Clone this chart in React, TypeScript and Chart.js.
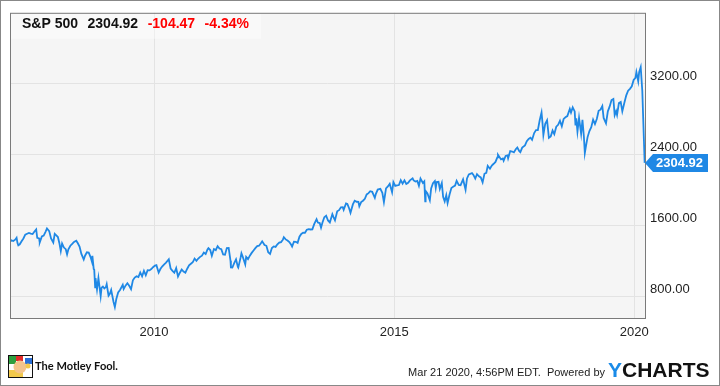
import React, { useEffect, useRef } from "react";
import { Chart, registerables } from "chart.js";

Chart.register(...registerables);

// ---- data ----
const dates: string[] = [
  "2007-01-03","2007-01-12","2007-01-26","2007-02-09","2007-02-20","2007-02-27","2007-03-05","2007-03-16","2007-03-30","2007-04-13","2007-04-27","2007-05-11","2007-05-25","2007-06-08","2007-06-22","2007-07-06","2007-07-19","2007-07-27","2007-08-10","2007-08-15","2007-08-31","2007-09-14","2007-09-28","2007-10-09","2007-10-26","2007-11-09","2007-11-26","2007-12-07","2007-12-21","2007-12-31",
  "2008-01-11","2008-01-22","2008-02-01","2008-02-15","2008-02-29","2008-03-10","2008-03-20","2008-04-04","2008-04-18","2008-05-02","2008-05-19","2008-05-30","2008-06-13","2008-06-27","2008-07-15","2008-07-25","2008-08-08","2008-08-22","2008-09-05","2008-09-15","2008-09-19","2008-09-29","2008-10-03","2008-10-10","2008-10-13","2008-10-24","2008-11-04","2008-11-21","2008-11-28","2008-12-08","2008-12-19","2008-12-31",
  "2009-01-06","2009-01-20","2009-01-30","2009-02-09","2009-02-27","2009-03-09","2009-03-20","2009-04-03","2009-04-17","2009-05-08","2009-05-15","2009-05-29","2009-06-12","2009-06-26","2009-07-10","2009-07-24","2009-08-07","2009-08-21","2009-09-04","2009-09-18","2009-10-02","2009-10-16","2009-10-30","2009-11-13","2009-11-27","2009-12-11","2009-12-24",
  "2010-01-08","2010-01-19","2010-02-05","2010-02-19","2010-03-05","2010-03-19","2010-04-02","2010-04-23","2010-05-07","2010-05-21","2010-06-04","2010-06-18","2010-07-02","2010-07-16","2010-07-30","2010-08-13","2010-08-27","2010-09-10","2010-09-24","2010-10-08","2010-10-22","2010-11-05","2010-11-19","2010-12-03","2010-12-17","2010-12-31",
  "2011-01-14","2011-01-28","2011-02-11","2011-02-18","2011-03-04","2011-03-16","2011-04-01","2011-04-15","2011-04-29","2011-05-13","2011-05-27","2011-06-10","2011-06-24","2011-07-08","2011-07-22","2011-08-05","2011-08-08","2011-08-19","2011-09-02","2011-09-16","2011-09-30","2011-10-03","2011-10-21","2011-10-27","2011-11-04","2011-11-25","2011-12-02","2011-12-16","2011-12-30",
  "2012-01-13","2012-01-27","2012-02-10","2012-02-24","2012-03-09","2012-03-23","2012-04-02","2012-04-20","2012-05-04","2012-05-18","2012-06-01","2012-06-15","2012-06-29","2012-07-13","2012-07-27","2012-08-10","2012-08-24","2012-09-07","2012-09-14","2012-09-28","2012-10-12","2012-10-26","2012-11-09","2012-11-16","2012-11-30","2012-12-14","2012-12-28",
  "2013-01-11","2013-01-25","2013-02-08","2013-02-22","2013-03-08","2013-03-22","2013-04-05","2013-04-19","2013-05-03","2013-05-21","2013-05-31","2013-06-14","2013-06-24","2013-07-05","2013-07-19","2013-08-02","2013-08-16","2013-08-30","2013-09-18","2013-09-27","2013-10-08","2013-10-25","2013-11-08","2013-11-22","2013-12-06","2013-12-13","2013-12-31",
  "2014-01-10","2014-01-24","2014-02-03","2014-02-21","2014-03-07","2014-03-21","2014-04-04","2014-04-11","2014-04-25","2014-05-09","2014-05-23","2014-06-06","2014-06-20","2014-07-03","2014-07-18","2014-08-07","2014-08-15","2014-08-29","2014-09-18","2014-10-03","2014-10-15","2014-10-31","2014-11-14","2014-11-28","2014-12-16","2014-12-26",
  "2015-01-09","2015-01-23","2015-02-06","2015-02-20","2015-03-06","2015-03-20","2015-04-03","2015-04-17","2015-05-01","2015-05-21","2015-05-29","2015-06-12","2015-06-26","2015-07-08","2015-07-20","2015-08-07","2015-08-18","2015-08-25","2015-08-28","2015-09-11","2015-09-29","2015-10-09","2015-10-23","2015-11-06","2015-11-13","2015-11-20","2015-12-04","2015-12-14","2015-12-29",
  "2016-01-08","2016-01-20","2016-02-01","2016-02-11","2016-02-26","2016-03-11","2016-03-24","2016-04-08","2016-04-20","2016-05-06","2016-05-20","2016-06-08","2016-06-27","2016-07-08","2016-07-22","2016-08-15","2016-08-26","2016-09-09","2016-09-22","2016-10-07","2016-10-21","2016-11-04","2016-11-18","2016-12-02","2016-12-13","2016-12-30",
  "2017-01-13","2017-01-27","2017-02-10","2017-02-24","2017-03-01","2017-03-24","2017-04-07","2017-04-13","2017-04-28","2017-05-12","2017-05-17","2017-06-02","2017-06-16","2017-06-30","2017-07-14","2017-07-26","2017-08-10","2017-08-18","2017-09-01","2017-09-22","2017-10-06","2017-10-20","2017-11-03","2017-11-15","2017-12-01","2017-12-15","2017-12-29",
  "2018-01-12","2018-01-26","2018-02-02","2018-02-09","2018-02-23","2018-03-09","2018-03-23","2018-04-06","2018-04-20","2018-05-03","2018-05-18","2018-06-01","2018-06-15","2018-06-29","2018-07-13","2018-07-27","2018-08-10","2018-08-29","2018-09-07","2018-09-20","2018-10-05","2018-10-11","2018-10-17","2018-10-26","2018-11-07","2018-11-23","2018-12-03","2018-12-14","2018-12-21","2018-12-31",
  "2019-01-11","2019-01-25","2019-02-08","2019-02-22","2019-03-08","2019-03-22","2019-04-05","2019-04-19","2019-05-03","2019-05-13","2019-05-31","2019-06-14","2019-06-28","2019-07-12","2019-07-26","2019-08-05","2019-08-16","2019-08-23","2019-09-06","2019-09-20","2019-10-02","2019-10-18","2019-11-01","2019-11-15","2019-11-29","2019-12-13","2019-12-27",
  "2020-01-10","2020-01-17","2020-01-31","2020-02-07","2020-02-19","2020-03-02","2020-03-20"
];

const closes: number[] = [
  1417,1430,1423,1438,1460,1399,1374,1386,1421,1452,1494,1505,1515,1507,1502,1530,1553,1459,1453,1406,1474,1484,1527,1565,1535,1453,1407,1504,1484,1468,
  1401,1310,1395,1349,1331,1273,1330,1370,1390,1413,1426,1400,1360,1278,1215,1257,1296,1292,1242,1192,1255,1106,1099,899,1003,877,1005,800,896,909,887,903,
  935,805,826,870,735,677,768,843,870,929,882,919,946,918,880,979,1010,1026,1016,1068,1025,1087,1036,1093,1091,1106,1127,
  1145,1150,1066,1109,1138,1160,1179,1217,1111,1087,1065,1117,1022,1065,1102,1079,1065,1110,1148,1166,1183,1225,1199,1225,1244,1258,
  1293,1276,1329,1343,1321,1257,1332,1320,1364,1338,1331,1271,1268,1344,1345,1199,1125,1124,1174,1216,1131,1123,1238,1285,1253,1159,1244,1219,1258,
  1289,1316,1343,1366,1370,1397,1419,1378,1369,1295,1278,1343,1362,1357,1386,1406,1411,1438,1466,1441,1429,1412,1380,1360,1416,1414,1402,
  1472,1503,1518,1516,1551,1557,1553,1555,1614,1669,1631,1626,1573,1632,1692,1709,1655,1633,1725,1692,1656,1759,1771,1804,1805,1775,1848,
  1842,1790,1742,1836,1878,1866,1865,1815,1863,1878,1900,1949,1963,1985,1978,1910,1955,2003,2011,1968,1862,2018,2039,2068,1973,2088,
  2045,2051,2055,2110,2071,2108,2067,2081,2108,2131,2107,2094,2101,2047,2128,2078,2097,1870,1989,1961,1884,2015,2075,2099,2023,2089,2092,2012,2078,
  1922,1870,1940,1850,1948,2022,2035,2048,2102,2057,2053,2119,2001,2130,2175,2190,2169,2128,2177,2153,2141,2085,2182,2192,2271,2239,
  2275,2295,2316,2367,2396,2344,2355,2329,2384,2390,2357,2439,2433,2423,2459,2478,2438,2426,2477,2502,2549,2575,2588,2565,2642,2675,2674,
  2786,2873,2762,2620,2747,2786,2588,2604,2670,2630,2713,2735,2780,2718,2801,2819,2833,2914,2872,2931,2886,2728,2809,2659,2814,2633,2790,2600,2417,2507,
  2596,2665,2707,2793,2743,2801,2893,2905,2946,2812,2752,2887,2942,3014,3026,2844,2889,2847,2979,2992,2887,2986,3067,3120,3141,3169,3240,
  3265,3330,3226,3328,3386,3120,2305
];

const yTickValues = [800, 1600, 2400, 3200];
const xTickValues = [2010, 2015, 2020];
const yMin = 554;
const yMax = 3999;
const xMin = 2007.0;
const xMax = 2020.223;

const tickerName = "S&P 500";
const lastPriceText = "2304.92";
const changeText = "-104.47";
const changePctText = "-4.34%";
const footerStamp = "Mar 21 2020, 4:56PM EDT.  Powered by";
const brandLeft = "The Motley Fool.";

const LINE = "#1f88e5";
const FONT = '"Liberation Sans", Arial, sans-serif';

function toYear(d: string): number {
  const [y, m, dd] = d.split("-").map(Number);
  const t = Date.UTC(y, m - 1, dd);
  const s = Date.UTC(y, 0, 1);
  const e = Date.UTC(y + 1, 0, 1);
  return y + (t - s) / (e - s);
}

const decorPlugin = {
  id: "decor",
  beforeDraw(chart: any) {
    const { ctx, chartArea: a, width, height } = chart;
    ctx.save();
    ctx.fillStyle = "#ffffff";
    ctx.fillRect(0, 0, width, height);
    ctx.fillStyle = "#f5f5f5";
    ctx.fillRect(a.left, a.top, a.right - a.left, a.bottom - a.top);
    ctx.restore();
  },
  afterDraw(chart: any) {
    const { ctx, chartArea: a, width, height } = chart;
    ctx.save();
    // header box
    ctx.fillStyle = "rgba(255,255,255,0.4)";
    ctx.fillRect(a.left + 1, a.top + 1, 250, 25);
    ctx.font = `bold 14px ${FONT}`;
    ctx.textBaseline = "alphabetic";
    ctx.textAlign = "left";
    let x = 22;
    const by = 28;
    const gap = 9.5;
    ctx.fillStyle = "#111";
    ctx.fillText(tickerName, x, by);
    x += ctx.measureText(tickerName).width + gap;
    ctx.fillText(lastPriceText, x, by);
    x += ctx.measureText(lastPriceText).width + gap;
    ctx.fillStyle = "#ff0000";
    ctx.fillText(changeText, x, by);
    x += ctx.measureText(changeText).width + gap;
    ctx.fillText(changePctText, x, by);

    // plot border
    ctx.strokeStyle = "#7a7a7a";
    ctx.lineWidth = 1;
    ctx.strokeRect(a.left + 0.5, a.top + 0.5, a.right - a.left, a.bottom - a.top);

    // price tag
    const last = closes[closes.length - 1];
    const py = chart.scales.y.getPixelForValue(last);
    const tx = a.right;
    ctx.fillStyle = LINE;
    ctx.beginPath();
    ctx.moveTo(tx, py);
    ctx.lineTo(tx + 8, py - 9);
    ctx.lineTo(tx + 63, py - 9);
    ctx.lineTo(tx + 63, py + 9);
    ctx.lineTo(tx + 8, py + 9);
    ctx.closePath();
    ctx.fill();
    ctx.fillStyle = "#ffffff";
    ctx.font = `bold 13px ${FONT}`;
    ctx.textBaseline = "middle";
    ctx.fillText(lastPriceText, tx + 11, py + 0.5);

    // footer left: logo
    const lx = 8, ly = 355;
    ctx.fillStyle = "#ffffff";
    ctx.fillRect(lx, ly, 25, 23);
    ctx.fillStyle = "#2e9e3e";
    ctx.fillRect(lx + 1, ly + 1, 7, 8);
    ctx.fillStyle = "#e22b2b";
    ctx.fillRect(lx + 8, ly + 1, 7, 5);
    ctx.fillStyle = "#2a6fd6";
    ctx.fillRect(lx + 17, ly + 3, 7, 6);
    ctx.fillStyle = "#f2c94c";
    ctx.fillRect(lx + 1, ly + 15, 14, 7);
    ctx.fillStyle = "#f4c48c";
    ctx.beginPath();
    ctx.arc(lx + 12, ly + 12, 6.5, 0, Math.PI * 2);
    ctx.fill();
    ctx.fillStyle = "#f2c94c";
    ctx.beginPath();
    ctx.arc(lx + 20, ly + 11, 2.5, 0, Math.PI * 2);
    ctx.fill();
    ctx.strokeStyle = "#111";
    ctx.lineWidth = 1;
    ctx.strokeRect(lx + 0.5, ly + 0.5, 24, 22);
    ctx.fillStyle = "#111";
    ctx.font = `bold 12px Lato, ${FONT}`;
    ctx.textBaseline = "alphabetic";
    ctx.fillText(brandLeft, 35, 369.5, 83);

    // footer right
    ctx.font = `11px ${FONT}`;
    ctx.fillStyle = "#222";
    ctx.textAlign = "right";
    ctx.fillText(footerStamp, 605, 376);
    ctx.textAlign = "left";
    ctx.font = `bold 21px ${FONT}`;
    ctx.fillStyle = "#1a8be8";
    ctx.fillText("Y", 608, 377);
    const yw = ctx.measureText("Y").width;
    ctx.fillStyle = "#111";
    ctx.fillText("CHARTS", 608 + yw, 377);

    // outer frame
    ctx.strokeStyle = "#888";
    ctx.strokeRect(0.5, 0.5, width - 1, height - 1);
    ctx.restore();
  },
};

export default function App() {
  const ref = useRef<HTMLCanvasElement | null>(null);

  useEffect(() => {
    if (!ref.current) return;
    const points = dates.map((d, i) => ({ x: toYear(d), y: closes[i] }));
    const chart = new Chart(ref.current, {
      type: "line",
      data: {
        datasets: [
          {
            data: points,
            borderColor: LINE,
            borderWidth: 1.8,
            pointRadius: 0,
            tension: 0,
            fill: false,
          },
        ],
      },
      options: {
        responsive: false,
        animation: false,
        devicePixelRatio: 1,
        layout: { padding: { left: 10, top: 10, right: 0, bottom: 0 } },
        plugins: { legend: { display: false }, tooltip: { enabled: false } },
        scales: {
          x: {
            type: "linear",
            min: xMin,
            max: xMax,
            afterBuildTicks: (s: any) => {
              s.ticks = xTickValues.map((v) => ({ value: v }));
            },
            afterFit: (s: any) => {
              s.height = 68;
            },
            grid: { color: "#e3e3e3", drawTicks: false, lineWidth: 1 },
            border: { display: false },
            ticks: {
              padding: 7,
              autoSkip: false,
              maxRotation: 0,
              color: "#222",
              font: { family: FONT, size: 13 },
              callback: (v: any) => String(v),
            },
          },
          y: {
            type: "linear",
            position: "right",
            min: yMin,
            max: yMax,
            afterBuildTicks: (s: any) => {
              s.ticks = yTickValues.map((v) => ({ value: v }));
            },
            afterFit: (s: any) => {
              s.width = 75;
            },
            grid: { color: "#e3e3e3", drawTicks: false, lineWidth: 1 },
            border: { display: false },
            ticks: {
              padding: 5,
              labelOffset: -7,
              color: "#222",
              font: { family: FONT, size: 13 },
              callback: (v: any) => Number(v).toFixed(2),
            },
          },
        },
      },
      plugins: [decorPlugin],
    } as any);
    return () => chart.destroy();
  }, []);

  return (
    <div style={{ position: "fixed", left: 0, top: 0, width: 720, height: 386, background: "#fff" }}>
      <canvas ref={ref} width={720} height={386} style={{ width: 720, height: 386, display: "block" }} />
    </div>
  );
}
